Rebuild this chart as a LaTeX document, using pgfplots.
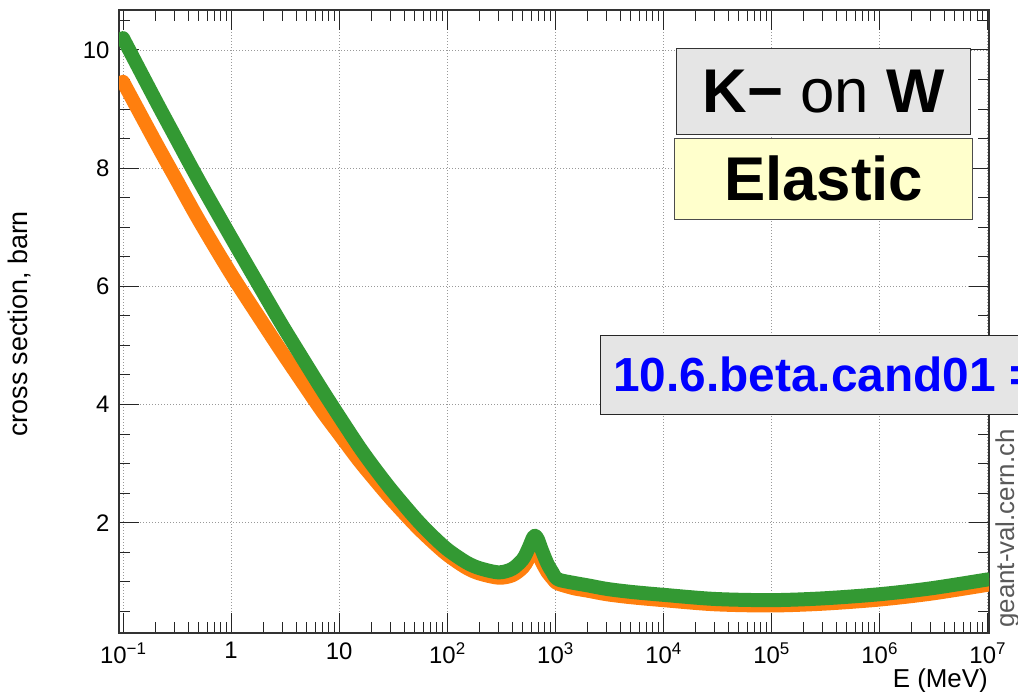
\documentclass[border=0pt]{standalone}
\usepackage{fontspec}
\setmainfont{Liberation Sans}
\usepackage{pgfplots}
\pgfplotsset{compat=1.18}
\definecolor{cgreen}{RGB}{51,153,51}
\definecolor{corange}{RGB}{255,127,14}
\definecolor{boxgray}{RGB}{229,229,229}
\definecolor{boxyellow}{RGB}{255,255,204}
\definecolor{cblue}{RGB}{0,0,255}
\newcommand\ex[1]{10\raisebox{9.5bp}{\fontsize{17}{17}\selectfont #1}}
\begin{document}
\begin{tikzpicture}[x=1bp,y=1bp]
\useasboundingbox (0,0) rectangle (1018,692);
\begin{axis}[at={(119bp,59bp)}, anchor=south west, scale only axis,
  width=870bp, height=623bp,
  xmode=log, xmin=0.0918, xmax=1.033e7, ymin=0.134, ymax=10.677,
  xtick={0.1,1,10,100,1000,10000,100000,1000000,10000000},
  xticklabels={\ex{−1},1,10,\ex{2},\ex{3},\ex{4},\ex{5},\ex{6},\ex{7}},
  minor xtick={0.2,0.3,0.4,0.5,0.6,0.7,0.8,0.9,2,3,4,5,6,7,8,9,20,30,40,50,60,70,80,90,200,300,400,500,600,700,800,900,2000,3000,4000,5000,6000,7000,8000,9000,20000,30000,40000,50000,60000,70000,80000,90000,200000,300000,400000,500000,600000,700000,800000,900000,2000000,3000000,4000000,5000000,6000000,7000000,8000000,9000000},
  ytick={2,4,6,8,10},
  minor ytick={0.5,1,1.5,2.5,3,3.5,4.5,5,5.5,6.5,7,7.5,8.5,9,9.5,10.5},
  /pgf/number format/assume math mode=true,
  tick label style={font=\fontsize{24}{24}\selectfont},
  xticklabel style={yshift=-6bp},
  yticklabel style={xshift=-6bp},
  major tick length=20bp, minor tick length=11bp,
  tick style={line width=1bp, black!85},
  axis line style={line width=1.3bp, black!80},
  grid=major,
  major grid style={dash pattern=on 1bp off 2bp, gray!80, line width=0.8bp},
]
\addplot[corange, line width=14bp, line cap=round, line join=round, smooth, tension=0.5] coordinates {
(0.1,9.46) (0.2,8.44) (0.3,7.86) (0.5,7.13) (1,6.21)
(2,5.36) (3,4.87) (5,4.27) (7,3.88) (10,3.50) (15,3.07) (20,2.79)
(30,2.41) (50,1.97) (70,1.71) (100,1.46) (150,1.24) (200,1.14) (300,1.07)
(400,1.11) (500,1.24) (560,1.38) (620,1.56) (650,1.62) (690,1.52) (750,1.34)
(850,1.16) (950,1.05) (1000,1.00) (1100,0.96) (1500,0.89) (2000,0.85)
(3000,0.79) (5000,0.74) (10000,0.69) (30000,0.62) (100000,0.60) (300000,0.63)
(1000000,0.70) (3000000,0.80) (10000000,0.95)};
\addplot[cgreen, line width=14bp, line cap=round, line join=round, smooth, tension=0.5] coordinates {
(0.1,10.20) (0.2,9.15) (0.3,8.55) (0.5,7.80) (1,6.83)
(2,5.88) (3,5.33) (5,4.67) (7,4.24) (10,3.80) (15,3.31) (20,2.99)
(30,2.57) (50,2.09) (70,1.81) (100,1.55) (150,1.33) (200,1.23) (300,1.16)
(400,1.22) (500,1.38) (560,1.55) (620,1.74) (650,1.78) (690,1.72) (750,1.54)
(850,1.30) (950,1.15) (1000,1.08) (1100,1.03) (1500,0.98) (2000,0.94)
(3000,0.88) (5000,0.83) (10000,0.78) (30000,0.71) (100000,0.69) (300000,0.72)
(1000000,0.79) (3000000,0.89) (10000000,1.04)};
\end{axis}
% boxes
\draw[fill=boxgray, draw=black!80, line width=1.2bp] (676.7,557.7) rectangle (970.7,643.7);
\node at (823.7,600.7) {\fontsize{62}{62}\selectfont\textbf{K−} on \textbf{W}};
\draw[fill=boxyellow, draw=black!70, line width=1.2bp] (674.7,472.7) rectangle (972.7,553.7);
\node at (823.7,513.2) {\fontsize{62}{62}\selectfont\textbf{Elastic}};
\draw[fill=boxgray, draw=black!85, line width=1.2bp] (600.7,277.7) rectangle (1100,356.7);
\node[anchor=west, inner sep=0pt, text=cblue] at (613,317.2) {\fontsize{48}{48}\selectfont\textbf{10.6.beta.cand01 = }};
% labels
\node[rotate=90, anchor=base west, inner sep=0pt] at (27,255) {\fontsize{27}{27}\selectfont cross section, barn};
\node[anchor=base east, inner sep=0pt] at (988,4) {\fontsize{26}{26}\selectfont E (MeV)};
\node[rotate=90, anchor=base west, inner sep=0pt, text=black!65] at (1014,64) {\fontsize{26}{26}\selectfont geant-val.cern.ch};
\end{tikzpicture}
\end{document}
